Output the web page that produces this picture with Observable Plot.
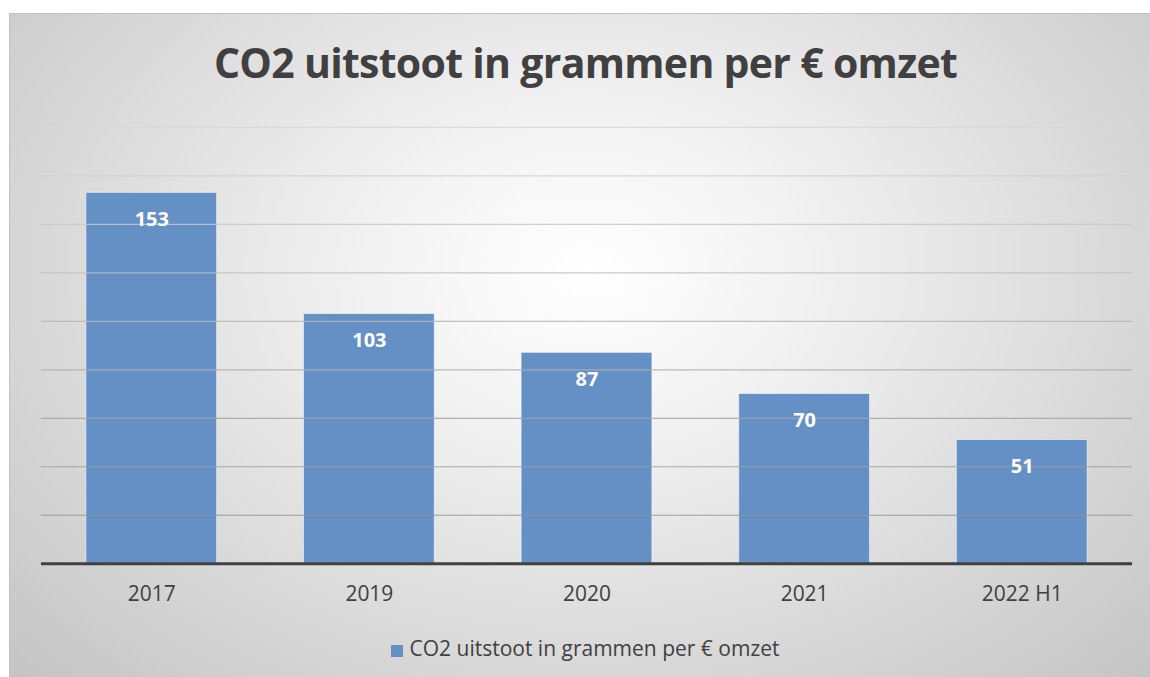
<!DOCTYPE html>
<html>
<head>
<meta charset="utf-8">
<script src="https://cdn.jsdelivr.net/npm/d3@7"></script>
<script src="https://cdn.jsdelivr.net/npm/@observablehq/plot@0.6"></script>
<style>
  html, body { margin: 0; padding: 0; background: #ffffff; overflow: hidden; }
  body { width: 1150px; height: 677px; position: relative; font-family: "Open Sans", sans-serif; }
  #frame {
    position: absolute; left: 9px; top: 13px; width: 1153px; height: 680px;
    box-sizing: border-box; border: 1px solid #c2c2c2;
    background: radial-gradient(ellipse farthest-corner at 50% 38%, #ffffff 0%, #f3f3f3 25%, #c3c3c3 100%);
    overflow: hidden;
  }
  #title {
    position: absolute; left: 0; width: 100%; top: 27px; text-align: center;
    font-family: "Open Sans", sans-serif; font-weight: 700; font-size: 41px; line-height: 42px;
    letter-spacing: -0.7px; color: #404040; white-space: nowrap;
  }
  #chart { position: absolute; left: 0; top: 87px; }
  #legend {
    position: absolute; left: 0; width: 100%; top: 621px; text-align: center;
    font-family: "Open Sans", sans-serif; font-size: 21px; line-height: 26px; color: #404040; white-space: nowrap;
  }
  #legend .sw { display: inline-block; width: 12px; height: 12px; background: #6490c6; margin-right: 6px; vertical-align: -1px; }
</style>
</head>
<body>
<div id="frame">
  <div id="title"></div>
  <div id="chart"></div>
  <div id="legend"></div>
</div>
<script>
const titleText = "CO2 uitstoot in grammen per € omzet";
const seriesName = "CO2 uitstoot in grammen per € omzet";
const categories = ["2017", "2019", "2020", "2021", "2022 H1"];
const values = [153, 103, 87, 70, 51];
const gridTicks = [20, 40, 60, 80, 100, 120, 140, 160, 180];

const data = categories.map((c, i) => ({category: c, value: values[i]}));
const barColor = "#6490c6";

document.getElementById("title").textContent = titleText;
document.getElementById("legend").innerHTML = '<span class="sw"></span>' + seriesName;

const gridColor = d3.scaleLinear().domain([0, 180]).range(["#8c8c8c", "#d8d8d8"]);

const chart = Plot.plot({
  width: 1153,
  height: 513,
  marginLeft: 31,
  marginRight: 29,
  marginTop: 26,
  marginBottom: 50,
  style: {background: "transparent", fontFamily: "Open Sans, sans-serif"},
  x: {domain: categories, paddingInner: 0.4, paddingOuter: 0.2, label: null},
  y: {domain: [0, 180], axis: null},
  marks: [
    Plot.barY(data, {x: "category", y: "value", fill: barColor, stroke: "#ffffff", strokeOpacity: 0.55, strokeWidth: 1}),
    Plot.ruleY(gridTicks, {stroke: d => gridColor(d), strokeWidth: 1.2, strokeOpacity: 0.85}),
    Plot.ruleY([0], {stroke: "#404040", strokeWidth: 3}),
    Plot.text(data, {x: "category", y: "value", text: d => String(d.value), dy: 27, fill: "#ffffff", fontWeight: 700, fontSize: 20}),
    Plot.axisX({tickSize: 0, tickPadding: 22, fontSize: 21, fill: "#404040", label: null})
  ]
});
document.getElementById("chart").appendChild(chart);
</script>
</body>
</html>
